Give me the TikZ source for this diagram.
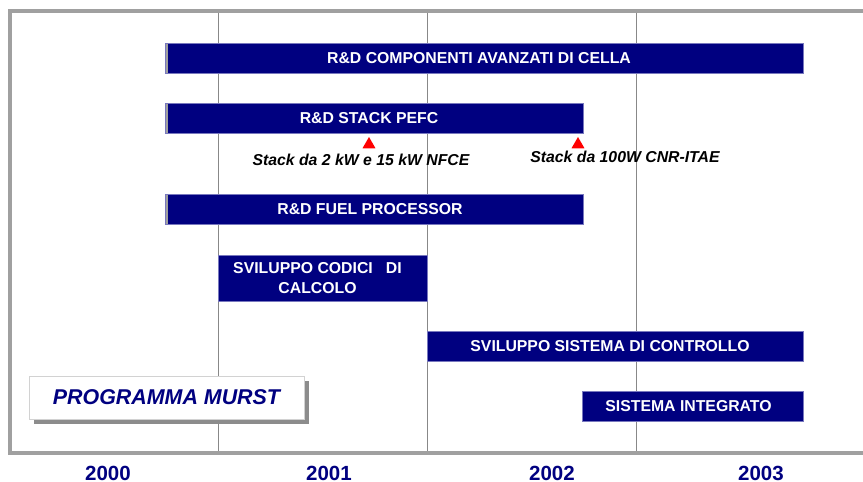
\documentclass[tikz,border=0pt]{standalone}
\usepackage{fontspec}
\setmainfont{Liberation Sans}
\usepackage{tikz}
\usetikzlibrary{positioning,shapes.geometric,shadows}
\definecolor{barnavy}{RGB}{0,0,128}
\definecolor{baredge}{RGB}{120,120,190}
\definecolor{framegray}{RGB}{160,160,160}
\tikzset{
  bar/.style={rectangle, fill=barnavy, draw=baredge, line width=0.8pt, inner sep=0pt,
              minimum height=30pt},
  greybar/.style={bar, path picture={\fill[framegray] (path picture bounding box.south west)
              rectangle ([xshift=3pt]path picture bounding box.north west);}},
  bartxt/.style={text=white, font=\fontsize{15.8}{20}\selectfont\bfseries, align=center,
              inner sep=0pt},
  note/.style={font=\fontsize{15.8}{18}\selectfont\bfseries\itshape, inner sep=0pt},
  milestone/.style={regular polygon, regular polygon sides=3, fill=red, minimum size=15pt,
              inner sep=0pt},
  year/.style={font=\fontsize{20.5}{24}\selectfont\bfseries, text=barnavy, inner sep=0pt},
  vline/.style={framegray!85!black, line width=1pt},
  frame/.style={framegray, line width=4pt},
  tag/.style={rectangle, fill=white, draw=gray!35, minimum width=275pt, minimum height=43pt,
              font=\fontsize{21.4}{24}\selectfont\bfseries\itshape, text=barnavy,
              drop shadow={shadow xshift=5pt, shadow yshift=-5pt, fill=black!45, opacity=1}}
}
\begin{document}
\begin{tikzpicture}[x=1pt, y=-1pt]
        \useasboundingbox (0,0) rectangle (863,482);
        % frame and year lines
        \draw[frame] (863,10.5) -- (10,10.5) -- (10,453) -- (863,453);
        \foreach \x in {218,427,636.5} \draw[vline] (\x,12.5) -- (\x,451);
        % activity bars
        \node[greybar, minimum width=638pt] (cella) at (484,58) {};
        \node[bartxt] (cella-t) at ([xshift=-5pt]cella.center) {R\&D COMPONENTI AVANZATI DI CELLA};
        \node[greybar, minimum width=418pt] (pefc) at (374,118) {};
        \node[bartxt] (pefc-t) at ([xshift=-5pt]pefc.center) {R\&D STACK PEFC};
        \node[greybar, minimum width=418pt] (fuel) at (374,209.5) {};
        \node[bartxt] (fuel-t) at ([xshift=-4pt]fuel.center) {R\&D FUEL PROCESSOR};
        \node[bar, minimum width=209pt, minimum height=46pt] (codici) at (322.5,278) {};
        \node[bartxt] (codici-t) at ([xshift=-5pt]codici.center) {SVILUPPO CODICI\ \ \ DI\\CALCOLO};
        \node[bar, minimum width=376pt] (controllo) at (615,346) {};
        \node[bartxt] (controllo-t) at ([xshift=-5pt]controllo.center) {SVILUPPO SISTEMA DI CONTROLLO};
        \node[bar, minimum width=221pt] (integrato) at (692.5,406) {};
        \node[bartxt] (integrato-t) at ([xshift=-4pt]integrato.center) {SISTEMA INTEGRATO};
        % milestones
        \node[milestone] (m1) at (369,144.5) {};
        \node[milestone] (m2) at (578,144.5) {};
        \node[note] (m1-t) at (361,160) {Stack da 2 kW e 15 kW NFCE};
        \node[note] (m2-t) at (625,156.5) {Stack da 100W CNR-ITAE};
        \node[tag] (murst) at (166.5,397.5) {PROGRAMMA MURST};
        \foreach \yr/\x in {2000/108,2001/329,2002/552,2003/761}
          \node[year] (y\yr) at (\x,473.5) {\yr};
      \end{tikzpicture}
\end{document}
